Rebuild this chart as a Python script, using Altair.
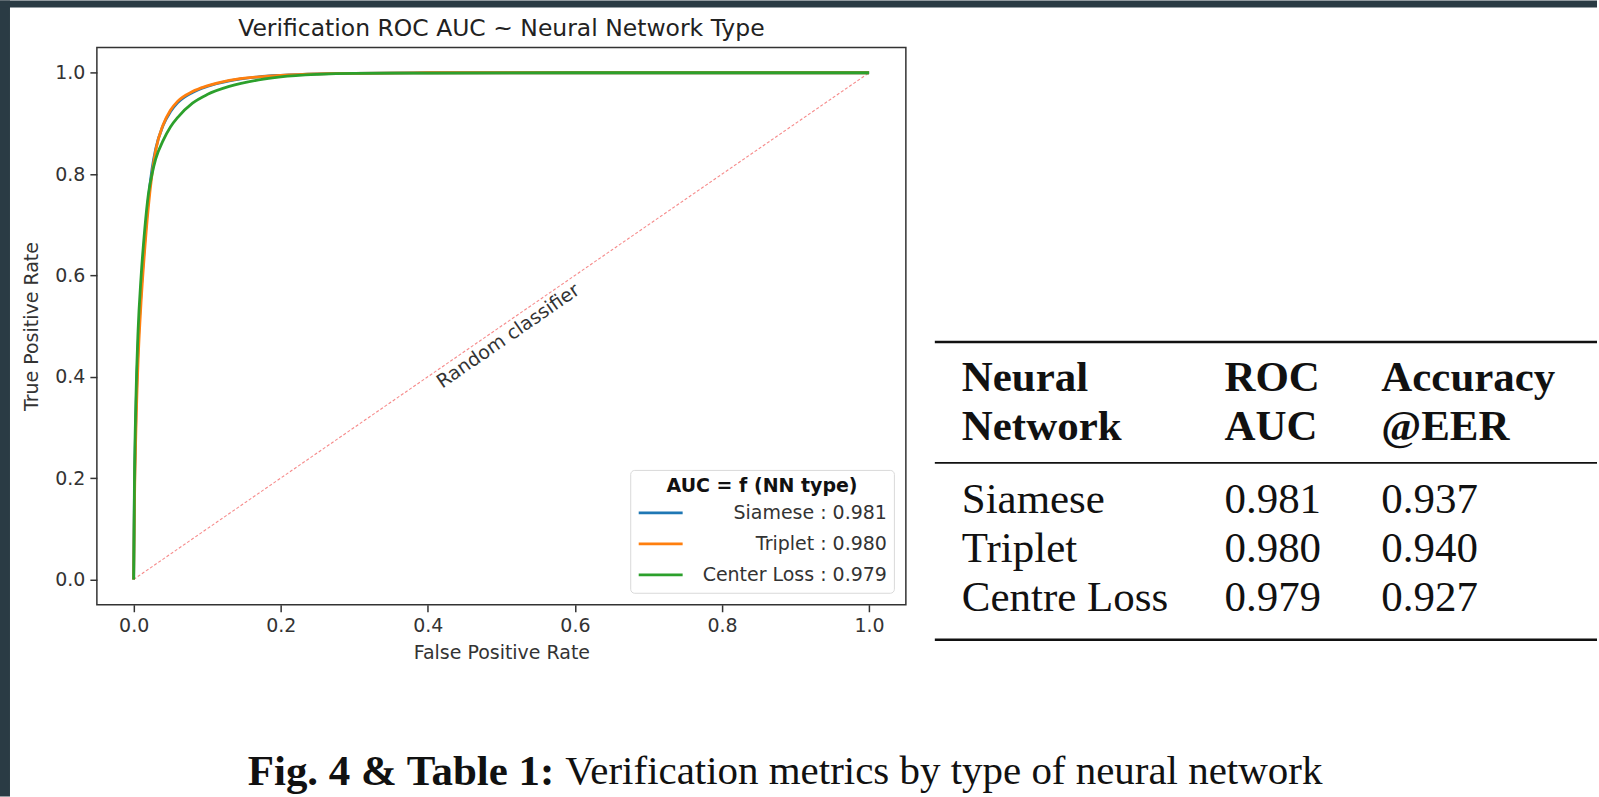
import altair as alt
import pandas as pd

# ---------------- data ----------------
series_names = ["Siamese", "Triplet", "Center Loss"]
series_auc = [0.981, 0.980, 0.979]
series_colors = ["#1f77b4", "#ff7f0e", "#2ca02c"]

fpr_points = [0.0, 0.001, 0.003, 0.006, 0.01, 0.015, 0.02, 0.025, 0.03, 0.04, 0.05,
              0.06, 0.08, 0.10, 0.13, 0.17, 0.20, 0.25, 0.30, 0.40, 0.60, 1.0]
tpr_siamese = [0.0, 0.16, 0.32, 0.46, 0.565, 0.665, 0.75, 0.81, 0.85, 0.896, 0.923,
               0.941, 0.961, 0.973, 0.984, 0.992, 0.995, 0.998, 0.999, 1.0, 1.0, 1.0]
tpr_triplet = [0.0, 0.14, 0.29, 0.43, 0.545, 0.65, 0.735, 0.80, 0.847, 0.897, 0.926,
               0.944, 0.963, 0.974, 0.985, 0.992, 0.995, 0.998, 0.999, 1.0, 1.0, 1.0]
tpr_center = [0.0, 0.18, 0.35, 0.49, 0.595, 0.69, 0.76, 0.80, 0.83, 0.866, 0.893,
              0.912, 0.94, 0.957, 0.973, 0.986, 0.992, 0.997, 0.999, 0.9995, 1.0, 1.0]

diag_fpr = [0.0, 1.0]
diag_tpr = [0.0, 1.0]
random_label = "Random classifier"
random_label_pos = [0.5, 0.5]

x_ticks = [0.0, 0.2, 0.4, 0.6, 0.8, 1.0]
y_ticks = [0.0, 0.2, 0.4, 0.6, 0.8, 1.0]

chart_title = "Verification ROC AUC ~ Neural Network Type"
x_title = "False Positive Rate"
y_title = "True Positive Rate"
legend_title = "AUC = f (NN type)"

table_head1 = ["Neural", "ROC", "Accuracy"]
table_head2 = ["Network", "AUC", "@EER"]
table_names = ["Siamese", "Triplet", "Centre Loss"]
table_auc = [0.981, 0.980, 0.979]
table_acc = [0.937, 0.940, 0.927]

caption_bold = "Fig. 4 & Table 1:"
caption_text = "Verification metrics by type of neural network"

DARK = "#2a3b44"
SANS = "DejaVu Sans"
SERIF = "Liberation Serif"

# ---------------- tables ----------------
legend_labels = [f"{n} : {a:.3f}" for n, a in zip(series_names, series_auc)]
rows = []
for lab, tprs in zip(legend_labels, [tpr_siamese, tpr_triplet, tpr_center]):
    for f, t in zip(fpr_points, tprs):
        rows.append({"label": lab, "fpr": f, "tpr": t})
roc_df = pd.DataFrame(rows)
diag_df = pd.DataFrame({"fpr": diag_fpr, "tpr": diag_tpr})
rl_df = pd.DataFrame({"fpr": [random_label_pos[0]], "tpr": [random_label_pos[1]], "t": [random_label]})
one = pd.DataFrame({"a": [0]})

xscale = alt.Scale(domain=[-0.05, 1.05], nice=False, zero=False)
yscale = alt.Scale(domain=[-0.05, 1.05], nice=False, zero=False)

axis_common = dict(grid=False, domain=False, tickSize=7, tickWidth=1.5, tickColor="#333",
                   labelFont=SANS, labelFontSize=19, labelColor="#333", labelPadding=5,
                   titleFont=SANS, titleFontSize=19, titleFontWeight="normal", titleColor="#333",
                   labelFlush=False, format=".1f")
xaxis = alt.Axis(values=x_ticks, title=x_title, titlePadding=8, **axis_common)
yaxis = alt.Axis(values=y_ticks, title=y_title, titlePadding=13, **axis_common)

legend = alt.Legend(
    title=legend_title, orient="none", legendX=534, legendY=423,
    titleFont=SANS, titleFontSize=19, titleFontWeight="bold", titleColor="#111",
    titleAnchor="middle", titlePadding=6, titleLimit=500,
    labelFont=SANS, labelFontSize=19, labelColor="#333", labelAlign="right",
    labelOffset=203, labelLimit=400,
    symbolType="stroke", symbolSize=1936, symbolStrokeWidth=2.8,
    clipHeight=22, rowPadding=9,
    fillColor="white", strokeColor="#d9d9d9", cornerRadius=4, padding=7,
)

diag = alt.Chart(diag_df).mark_line(color="#f03c3c", opacity=0.6, strokeWidth=1.1,
                                    strokeDash=[3, 2]).encode(
    x=alt.X("fpr:Q", scale=xscale, axis=xaxis),
    y=alt.Y("tpr:Q", scale=yscale, axis=yaxis))

lines = alt.Chart(roc_df).mark_line(strokeWidth=2.8, interpolate="monotone").encode(
    x=alt.X("fpr:Q", scale=xscale, axis=xaxis),
    y=alt.Y("tpr:Q", scale=yscale, axis=yaxis),
    color=alt.Color("label:N", scale=alt.Scale(domain=legend_labels, range=series_colors),
                    legend=legend, sort=legend_labels))

rlabel = alt.Chart(rl_df).mark_text(angle=325.44, align="center", baseline="top", dy=3,
                                    fontSize=19, font=SANS, color="#333").encode(
    x="fpr:Q", y="tpr:Q", text="t:N")

cap_b = alt.Chart(pd.DataFrame({"t": [caption_bold]})).mark_text(
    font=SERIF, fontSize=43, fontWeight="bold", align="right", baseline="middle",
    color="#111").encode(x=alt.value(555 - 97), y=alt.value(772 - 47), text="t:N")
cap_t = alt.Chart(pd.DataFrame({"t": [caption_text]})).mark_text(
    font=SERIF, fontSize=41, align="left", baseline="middle",
    color="#111").encode(x=alt.value(566 - 97), y=alt.value(772 - 47), text="t:N")

roc = alt.layer(diag, lines, rlabel, cap_b, cap_t).properties(
    width=810, height=558,
    title=alt.TitleParams(text=chart_title, font=SANS, fontSize=23.5, fontWeight="normal",
                          color="#222", offset=7, anchor="middle", frame="group"),
    view=alt.ViewBackground(stroke="#333", strokeWidth=1.5),
)

# ---------------- table ----------------
tdf = pd.DataFrame({"row": [0, 1, 2], "name": table_names, "auc": table_auc, "acc": table_acc})
hdf = pd.DataFrame({"line": [0, 1], "c0": [table_head1[0], table_head2[0]],
                    "c1": [table_head1[1], table_head2[1]], "c2": [table_head1[2], table_head2[2]]})
col_x = [43, 306, 463]
row_y = alt.Y("row:Q", scale=alt.Scale(domain=[0, 2], range=[453, 551]), axis=None)
head_y = alt.Y("line:Q", scale=alt.Scale(domain=[0, 1], range=[331, 380]), axis=None)

# page frame (dark strips on left and top), placed relative to the table view at (920, 47)
frame_left = alt.Chart(one).mark_rect(color=DARK).encode(
    x=alt.value(-920), x2=alt.value(-910), y=alt.value(-47), y2=alt.value(750))
frame_top = alt.Chart(one).mark_rect(color=DARK).encode(
    x=alt.value(-920), x2=alt.value(679), y=alt.value(-47), y2=alt.value(-40))

TFS = 43
layers = [frame_left, frame_top]
for i, c in enumerate(["c0", "c1", "c2"]):
    layers.append(alt.Chart(hdf).mark_text(font=SERIF, fontSize=TFS, fontWeight="bold",
                                           align="left", baseline="middle", color="#111").encode(
        x=alt.value(col_x[i]), y=head_y, text=f"{c}:N"))
body_fields = [("name", "N", None), ("auc", "Q", ".3f"), ("acc", "Q", ".3f")]
for i, (f, t, fmt) in enumerate(body_fields):
    txt = alt.Text(f"{f}:{t}", format=fmt) if fmt else alt.Text(f"{f}:{t}")
    layers.append(alt.Chart(tdf).mark_text(font=SERIF, fontSize=TFS, align="left",
                                           baseline="middle", color="#111").encode(
        x=alt.value(col_x[i]), y=row_y, text=txt))
for yv, sw in [(295, 2.6), (416, 1.6), (593, 2.6)]:
    layers.append(alt.Chart(one).mark_rule(color="#111", strokeWidth=sw).encode(
        x=alt.value(16), x2=alt.value(679), y=alt.value(yv)))

table = alt.layer(*layers).properties(width=679, height=558).resolve_scale(y="independent")

chart = alt.hconcat(roc, table, spacing=13, bounds="flush", padding=0,
                    background="white").configure_view(strokeWidth=0)

chart.save("out.html", embed_options={"renderer": "svg", "actions": False})
